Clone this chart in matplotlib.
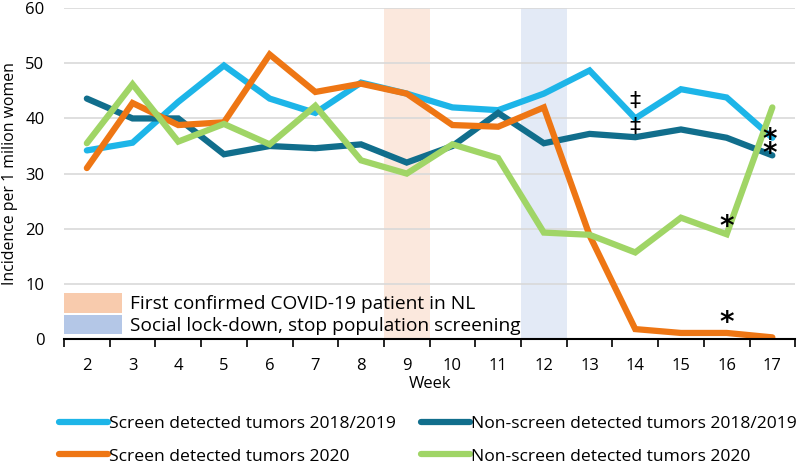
import numpy as np
import matplotlib
matplotlib.use("Agg")
import matplotlib.pyplot as plt
from matplotlib.patches import Patch

plt.rcParams['font.family'] = ['Open Sans', 'DejaVu Sans']

weeks = list(range(2, 18))
screen_1819 = [34.2, 35.6, 43.0, 49.6, 43.6, 41.0, 46.5, 44.5, 42.0, 41.5, 44.5, 48.7, 40.0, 45.3, 43.8, 36.5]
nonscreen_1819 = [43.6, 40.0, 40.0, 33.5, 35.0, 34.6, 35.3, 32.0, 35.0, 41.0, 35.5, 37.2, 36.6, 38.0, 36.5, 33.3]
screen_2020 = [31.0, 42.8, 38.8, 39.3, 51.6, 44.8, 46.3, 44.5, 38.8, 38.5, 42.0, 18.8, 1.8, 1.1, 1.1, 0.3]
nonscreen_2020 = [35.5, 46.2, 35.8, 39.0, 35.3, 42.3, 32.4, 30.0, 35.3, 32.8, 19.3, 18.9, 15.7, 22.0, 19.0, 42.0]

covid_week = 9
lockdown_week = 12

c_screen_1819 = '#1DB5E8'
c_nonscreen_1819 = '#116E8C'
c_screen_2020 = '#EE7614'
c_nonscreen_2020 = '#A0D566'

fig = plt.figure(figsize=(8, 4.66), dpi=100)
ax = fig.add_axes([0.08, 0.2725, 0.914, 0.71])

ax.axvspan(covid_week - 0.5, covid_week + 0.5, color='#FBE8DD', lw=0, zorder=0)
ax.axvspan(lockdown_week - 0.5, lockdown_week + 0.5, color='#E3EAF6', lw=0, zorder=0)

lw = 4.5
kw = dict(lw=lw, solid_joinstyle='miter', solid_capstyle='round', zorder=3)
l1, = ax.plot(weeks, screen_1819, color=c_screen_1819, **kw)
l2, = ax.plot(weeks, nonscreen_1819, color=c_nonscreen_1819, **kw)
l3, = ax.plot(weeks, screen_2020, color=c_screen_2020, **kw)
l4, = ax.plot(weeks, nonscreen_2020, color=c_nonscreen_2020, **kw)

# significance marks
i14 = weeks.index(14)
i16 = weeks.index(16)
i17 = weeks.index(17)
mk = dict(ha='center', va='center', family='DejaVu Sans', zorder=5)
ax.text(14, screen_1819[i14] + 3.2, '‡', fontsize=16, **mk)
ax.text(14, screen_1819[i14] - 1.5, '‡', fontsize=16, **mk)
ax.text(16, nonscreen_2020[i16] + 1.4, '*', fontsize=20, fontweight='bold', **mk)
ax.text(16, screen_2020[i16] + 1.75, '*', fontsize=20, fontweight='bold', **mk)
ax.text(16.95, screen_1819[i17] - 0.4, '*', fontsize=20, fontweight='bold', **mk)
ax.text(16.95, nonscreen_1819[i17] + 0.2, '*', fontsize=20, fontweight='bold', **mk)

ax.set_xlim(1.5, 17.5)
ax.set_ylim(0, 60)
ax.set_yticks(np.arange(0, 61, 10))
ax.set_xticks(weeks)
ax.set_xticks(np.arange(1.5, 17.6, 1), minor=True)
ax.tick_params(axis='x', which='major', length=0, labelsize=12, pad=14)
ax.tick_params(axis='x', which='minor', length=6, width=1.2, direction='out')
ax.tick_params(axis='y', length=0, labelsize=12, pad=14)
ax.grid(axis='y', color='#D9D9D9', lw=1.2, zorder=1)
ax.set_axisbelow(True)
for s in ['top', 'right', 'left']:
    ax.spines[s].set_visible(False)
ax.spines['bottom'].set_linewidth(1.5)
ax.spines['bottom'].set_zorder(4)

ax.set_xlabel('Week', fontsize=12, labelpad=1)
ax.set_ylabel('Incidence per 1 milion women', fontsize=11.4, labelpad=5)

band_handles = [Patch(facecolor='#F8CBAD', edgecolor='none'),
                Patch(facecolor='#B4C7E7', edgecolor='none')]
ax.legend(band_handles,
          ['First confirmed COVID-19 patient in NL', 'Social lock-down, stop population screening'],
          loc='lower left', bbox_to_anchor=(0.0, 0.012), frameon=False, fontsize=13.8,
          handlelength=3.0, handleheight=1.2, handletextpad=0.42, labelspacing=0.08,
          borderaxespad=0.0, borderpad=0.0)

leg_kw = dict(loc='upper left', frameon=False, fontsize=12.6, handlelength=2.8,
              handletextpad=0.05, labelspacing=0.94, borderaxespad=0.0, borderpad=0.0)
fig.legend([l1, l3], ['Screen detected tumors 2018/2019', 'Screen detected tumors 2020'],
           bbox_to_anchor=(59 / 800, 0.108), **leg_kw)
fig.legend([l2, l4], ['Non-screen detected tumors 2018/2019', 'Non-screen detected tumors 2020'],
           bbox_to_anchor=(421 / 800, 0.108), **leg_kw)

fig.savefig('out.png', dpi=100)
